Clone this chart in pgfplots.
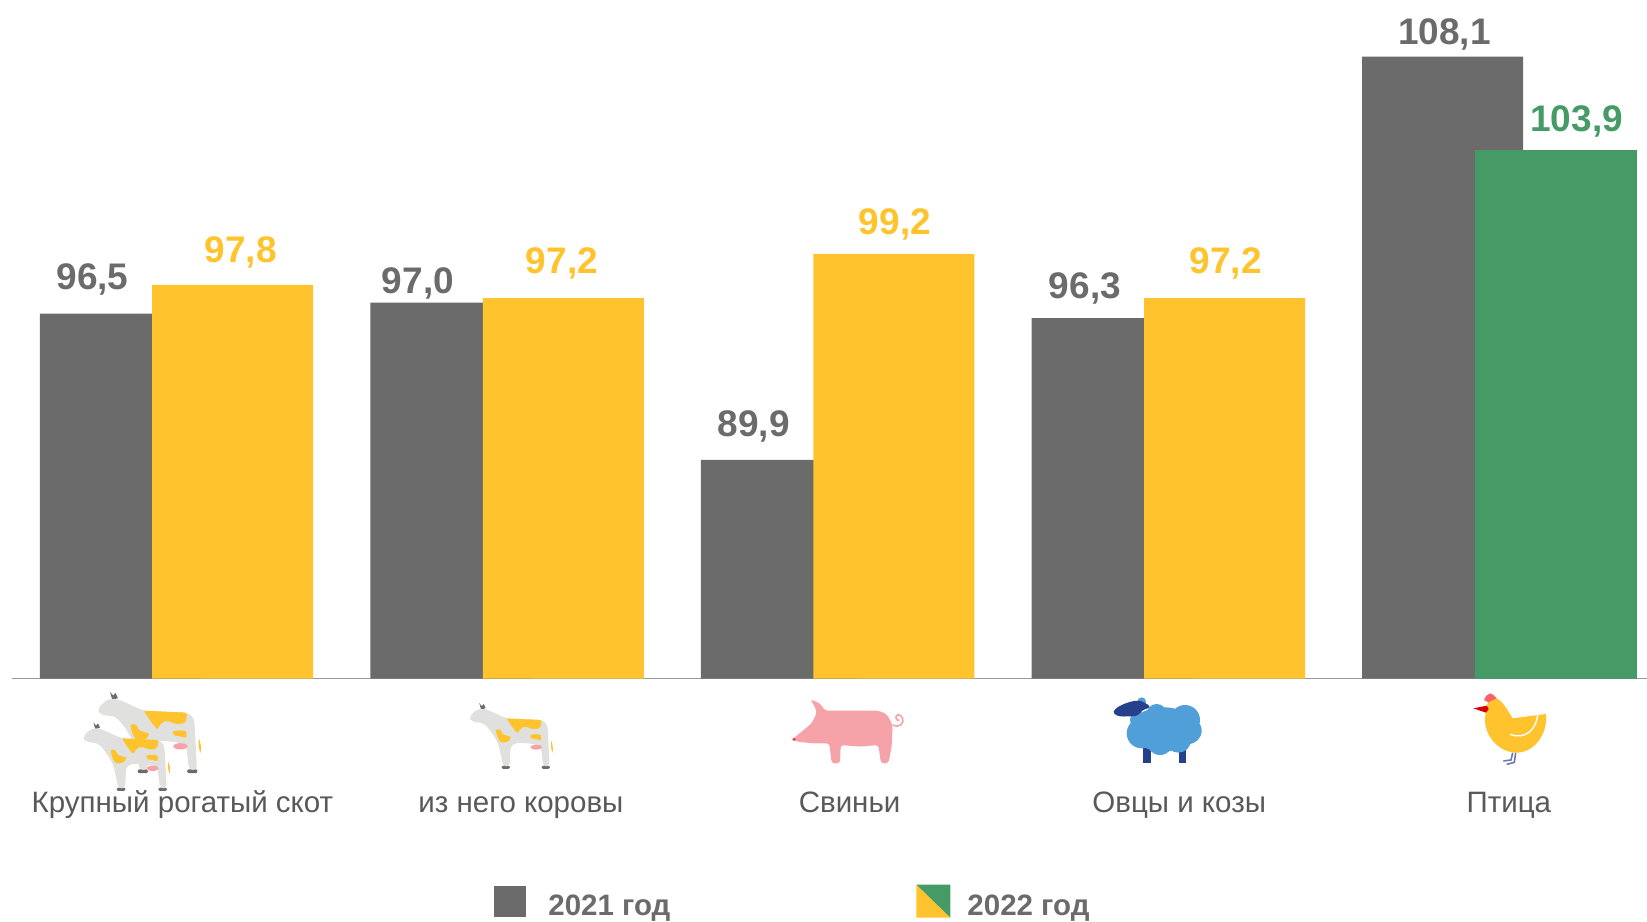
\documentclass[border=0pt]{standalone}
\usepackage{fontspec}
\setmainfont{Liberation Sans}
\usepackage{pgfplots}
\pgfplotsset{compat=1.18}
\usepackage{pgfplotstable}

\definecolor{barGray}{HTML}{6B6B6B}
\definecolor{barYellow}{HTML}{FFC42D}
\definecolor{barGreen}{HTML}{469A66}
\definecolor{catText}{HTML}{595959}
\definecolor{cowGray}{HTML}{E0E0DE}
\definecolor{udder}{HTML}{F5A3A8}
\definecolor{sheepBlue}{HTML}{519FD8}
\definecolor{sheepDark}{HTML}{27408B}

\pgfplotstableread{
x y
0 96.5
1 97.0
2 89.9
3 96.3
4 108.1
}\datagray
\pgfplotstableread{
x y
0 97.8
1 97.2
2 99.2
3 97.2
}\datayellow
\pgfplotstableread{
x y
4 103.9
}\datagreen

% cow icon: #1,#2 top left in image pixels, #3 scale; local units are 1/3 pixel
\newcommand{\cowicon}[3]{%
\begin{scope}[shift={(#1,#2)},x=#3*0.16667pt,y=-#3*0.16667pt]
\fill[barGray] (32,0) -- (40,10) -- (46,3) -- (52,16) -- (38,21) -- cycle;
\fill[barGray,rounded corners=1pt] (102,196) rectangle (128,206);
\fill[barGray,rounded corners=1pt] (227,196) rectangle (253,206);
\fill[barYellow] (257,118) .. controls (262,130) and (263,145) .. (261,155) .. controls (256,145) and (255,130) .. (257,118) -- cycle;
\fill[cowGray,rounded corners=2pt] (0,43) -- (27,18) -- (50,18) -- (117,48) -- (227,53) -- (245,66) -- (252,198) -- (232,198) -- (224,133) -- (202,128) -- (152,123) -- (130,133) -- (127,198) -- (107,198) -- (92,128) -- (72,93) -- (47,63) -- (7,58) -- cycle;
\fill[barYellow,rounded corners=1pt] (117,48) -- (227,53) -- (224,78) -- (202,83) -- (177,73) -- (162,78) -- (152,96) -- (137,78) -- cycle;
\fill[barYellow] plot[smooth cycle] coordinates {(84,85) (97,83) (107,98) (130,106) (122,120) (102,123) (92,113)};
\fill[barYellow] plot[smooth cycle] coordinates {(192,100) (207,98) (224,100) (224,116) (210,113) (194,110)};
\fill[udder] (210,138) ellipse [x radius=18,y radius=8];
\end{scope}}

\begin{document}
\begin{tikzpicture}
\useasboundingbox (0,0) rectangle (823.5pt,460.5pt);
\begin{axis}[
  at={(5.75pt,121.2pt)},
  anchor=south west,
  scale only axis,
  width=817.75pt,
  height=339.3pt,
  xmin=-0.499, xmax=4.448,
  ymin=80.02, ymax=110.66,
  clip=false,
  hide y axis,
  axis x line*=bottom,
  x axis line style={color=black!40,line width=0.7pt,-},
  xtick={0.018,1.042,2.036,3.033,4.03},
  xticklabels={Крупный рогатый скот,из него коровы,Свиньи,Овцы и козы,Птица},
  xtick style={draw=none},
  xticklabel style={font=\fontsize{14.75}{16}\selectfont,text=catText,anchor=base,yshift=-66.75pt},
  legend columns=2,
  legend style={draw=none,fill=none,at={(0.295,-0.336)},anchor=base west,
    font=\fontsize{14.75}{16}\selectfont\bfseries,text=barGray,
    /tikz/every even column/.append style={column sep=123pt},
    legend cell align=left,inner sep=0pt,nodes={inner sep=0pt}},
  every node near coord/.style={},
]
\addplot[ybar,bar width=0.487,bar shift=-0.17,fill=barGray,draw=none,
  area legend,
  legend image code/.code={\fill[barGray] (0pt,-5pt) rectangle (16pt,10.5pt);}]
  table {\datagray};
\addlegendentry{\hspace*{11pt}2021 год}
\addplot[ybar,bar width=0.487,bar shift=0.17,fill=barYellow,draw=none,
  area legend,
  legend image code/.code={
    \fill[barYellow] (0pt,11pt) -- (17pt,-5.5pt) -- (0pt,-5.5pt) -- cycle;
    \fill[barGreen] (0pt,11pt) -- (17pt,11pt) -- (17pt,-5.5pt) -- cycle;}]
  table {\datayellow};
\addlegendentry{\hspace*{8.5pt}2022 год}
\addplot[ybar,bar width=0.492,bar shift=0.173,fill=barGreen,draw=none,forget plot]
  table {\datagreen};
% value labels, placed where the picture has them
\addplot[draw=none,mark=none,forget plot,point meta=explicit symbolic,nodes near coords,
  nodes near coords style={anchor=base,inner sep=0pt,font=\fontsize{18.5}{20}\selectfont\bfseries,text=barGray}]
  coordinates {(-0.254,97.61)[96,5] (0.7305,97.43)[97,0] (1.746,90.93)[89,9] (2.748,97.16)[96,3] (3.835,108.67)[108,1]};
\addplot[draw=none,mark=none,forget plot,point meta=explicit symbolic,nodes near coords,
  nodes near coords style={anchor=base,inner sep=0pt,font=\fontsize{18.5}{20}\selectfont\bfseries,text=barYellow}]
  coordinates {(0.194,98.83)[97,8] (1.166,98.29)[97,2] (2.173,100.05)[99,2] (3.174,98.29)[97,2]};
\addplot[draw=none,mark=none,forget plot,point meta=explicit symbolic,nodes near coords,
  nodes near coords style={anchor=base,inner sep=0pt,font=\fontsize{18.5}{20}\selectfont\bfseries,text=barGreen}]
  coordinates {(4.235,104.70)[103,9]};
\end{axis}
% icons, in image pixels from the top left corner
\begin{scope}[yshift=460.5pt,x=0.5pt,y=-0.5pt]
\cowicon{97.3}{691.7}{1.187}
\cowicon{82.7}{722.3}{1}
\cowicon{469}{703}{0.96}
% pig, local units are 1/3 pixel
\begin{scope}[shift={(780,690)},x=0.16667pt,y=-0.16667pt]
\fill[udder,rounded corners=1.5pt] (90,28) -- (120,40) -- (135,62) -- (295,62) -- (320,72) -- (338,105) -- (335,170) -- (325,220) -- (303,220) -- (295,165) -- (240,170) -- (182,165) -- (180,220) -- (155,220) -- (148,160) -- (100,160) -- (50,155) -- (38,147) -- (65,125) -- (95,100) -- (110,70) -- (105,50) -- cycle;
\draw[udder,line width=0.8pt] (338,105) .. controls (360,115) and (372,100) .. (368,85) .. controls (362,70) and (345,72) .. (348,85) .. controls (350,92) and (355,92) .. (358,90);
\fill[red!70!udder] (42,148) circle [radius=5];
\end{scope}
% sheep
\begin{scope}[shift={(1100,690)},x=0.16667pt,y=-0.16667pt]
\fill[sheepDark] (130,170) rectangle (152,220);
\fill[sheepDark] (237,170) rectangle (258,220);
\fill[sheepBlue] (190,118) ellipse [x radius=100,y radius=66];
\fill[sheepBlue] (125,130) circle [radius=45];
\fill[sheepBlue] (255,90) circle [radius=45];
\fill[sheepBlue] (265,122) circle [radius=40];
\fill[sheepBlue] (180,155) circle [radius=40];
\fill[sheepBlue] (235,150) circle [radius=38];
\fill[sheepBlue] (115,90) circle [radius=25];
\fill[sheepBlue] (170,72) circle [radius=30];
\fill[sheepBlue] (125,35) circle [radius=13];
\fill[sheepDark,rounded corners=2pt] (38,72) -- (45,55) -- (80,38) -- (115,30) -- (135,38) -- (155,52) -- (125,60) -- (115,78) -- (60,80) -- cycle;
\end{scope}
% hen
\begin{scope}[shift={(1460,685)},x=0.16667pt,y=-0.16667pt]
\draw[sheepDark!70,line width=0.8pt] (158,203) -- (153,225) -- (130,228);
\draw[sheepDark!70,line width=0.8pt] (167,203) -- (163,232) -- (140,238);
\fill[barYellow] (80,62) .. controls (85,42) and (100,36) .. (110,40) .. controls (130,50) and (145,80) .. (158,100) -- (258,87) .. controls (264,150) and (220,203) .. (170,203) .. controls (115,203) and (72,150) .. (75,100) -- cycle;
\draw[white,line width=0.7pt] (233,90) .. controls (228,135) and (195,165) .. (150,148);
\fill[udder!50!red!90!white] (72,45) -- (78,33) -- (90,25) -- (100,30) -- (110,40) -- (85,52) -- cycle;
\fill[red!85!black] (40,70) -- (80,62) -- (86,72) -- (78,83) -- cycle;
\end{scope}
\end{scope}
\end{tikzpicture}
\end{document}
